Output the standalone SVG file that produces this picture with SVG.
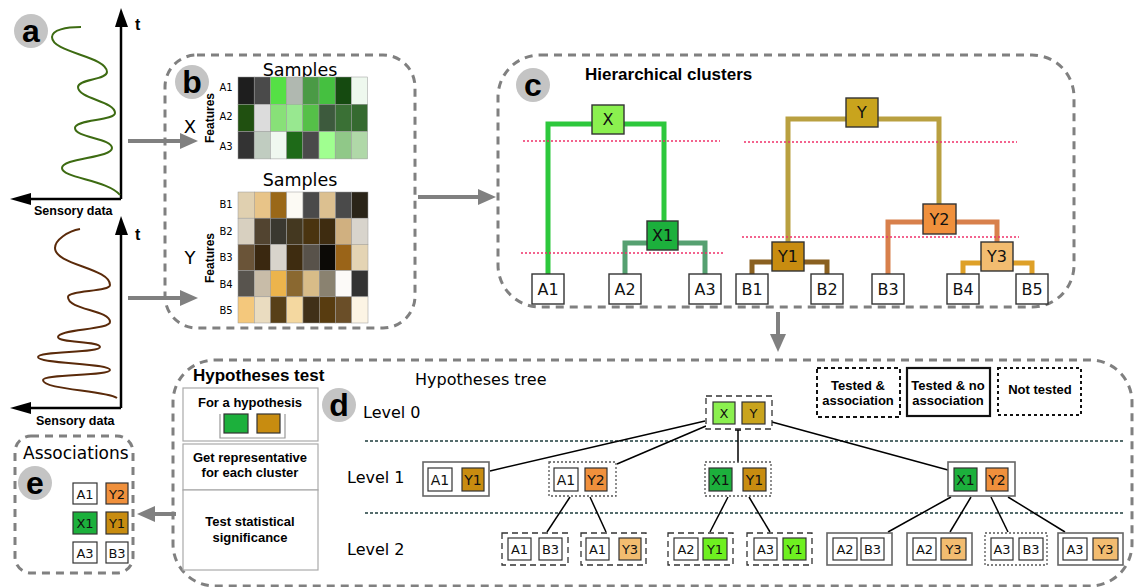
<svg xmlns="http://www.w3.org/2000/svg" width="1136" height="587" viewBox="0 0 1136 587">
<style>
.panel{fill:none;stroke:#808080;stroke-width:3;stroke-dasharray:8,6}
.badge{fill:#c4c4c4}
.badgeT{font-family:"Liberation Sans",Arial,sans-serif;font-weight:bold;font-size:32px;fill:#000;text-anchor:middle}
.bold{font-family:"Liberation Sans",Arial,sans-serif;font-weight:bold;fill:#000}
.reg{font-family:"DejaVu Sans","Liberation Sans",sans-serif;fill:#000}
.leaf{fill:#fff;stroke:#333;stroke-width:1.4}
.bt{font-family:"DejaVu Sans","Liberation Sans",sans-serif;fill:#111;text-anchor:middle}
.garrow{stroke:#808080;stroke-width:4;fill:none}
.cell{stroke:#999;stroke-width:0.5}
.red{stroke:#f0306a;stroke-width:1.4;stroke-dasharray:2,2;fill:none}
.sep{stroke:#1e3c3c;stroke-width:1.4;stroke-dasharray:3,2;fill:none}
.edge{stroke:#000;stroke-width:1.5;fill:none}
.nDash{fill:#fff;stroke:#333;stroke-width:1.3;stroke-dasharray:6,4}
.nSolid{fill:#fff;stroke:#666;stroke-width:1.6}
.nDot{fill:#fff;stroke:#555;stroke-width:1.3;stroke-dasharray:2,2}
.ib{stroke:#333;stroke-width:1.2}
</style>
<defs>
<marker id="blk" markerWidth="10" markerHeight="10" refX="9" refY="5" orient="auto" markerUnits="userSpaceOnUse" viewBox="0 0 10 10"><path d="M0,0 L10,5 L0,10 Z" fill="#000"/></marker>
</defs>

<!-- Panel a -->
<g id="panel-a">
  <circle class="badge" cx="31" cy="31" r="17"/>
  <text class="badgeT" x="31" y="42">a</text>
  <line x1="121" y1="199" x2="121" y2="27" stroke="#000" stroke-width="2.5"/>
  <path d="M115,27 L121,8 L128,27 Z" fill="#000"/>
  <line x1="121" y1="199" x2="30" y2="199" stroke="#000" stroke-width="2.5"/>
  <path d="M31,193 L10,199 L31,205 Z" fill="#000"/>
  <text class="bold" x="135" y="30" font-size="16">t</text>
  <text class="bold" x="34" y="215" font-size="12.5">Sensory data</text>
  <path d="M81,27 C66,27 52,30 52,37 C52,53 107,56 107,72 C107,80 78,79 78,87 C78,99 115,101 115,113 C115,121 75,119 75,128 C75,138 112,138 112,148 C112,158 62,158 62,168 C62,178 108,180 120,195" fill="none" stroke="#3d6b12" stroke-width="2"/>

  <line x1="121" y1="408" x2="121" y2="235" stroke="#000" stroke-width="2.5"/>
  <path d="M115,235 L121,216 L128,235 Z" fill="#000"/>
  <line x1="121" y1="408" x2="30" y2="408" stroke="#000" stroke-width="2.5"/>
  <path d="M31,402 L10,408 L31,414 Z" fill="#000"/>
  <text class="bold" x="135" y="240" font-size="16">t</text>
  <text class="bold" x="36" y="425" font-size="12.5">Sensory data</text>
  <path d="M80,229 C68,231 55,240 55,248 C55,265 110,268 110,285 C110,292 68,290 68,297 C68,310 110,310 110,322 C110,330 58,329 58,337 C58,343 100,341 100,347 C100,353 38,351 38,357 C38,364 110,363 110,370 C110,376 43,374 43,380 C43,390 105,390 117,398" fill="none" stroke="#5a2a0a" stroke-width="2"/>
</g>

<!-- Panel b -->
<g id="panel-b">
  <rect class="panel" x="165" y="55" width="250" height="273" rx="32"/>
  <circle class="badge" cx="192" cy="82" r="17"/>
  <text class="badgeT" x="192" y="93">b</text>
  <text class="reg" x="300" y="76" font-size="17.5" text-anchor="middle">Samples</text>
  <text class="reg" x="190" y="133" font-size="18" text-anchor="middle">X</text>
  <text class="bold" font-size="12" text-anchor="middle" transform="translate(214,118) rotate(-90)">Features</text>
  <g class="reg" font-size="10" text-anchor="middle">
    <text x="226" y="91">A1</text><text x="226" y="120">A2</text><text x="226" y="150">A3</text>
  </g>
  <g id="heat-x" class="cell">
    <rect x="238" y="77" width="16.2" height="27.3" fill="#1e1e1e"/><rect x="254.2" y="77" width="16.2" height="27.3" fill="#4a4a4a"/><rect x="270.4" y="77" width="16.2" height="27.3" fill="#55e045"/><rect x="286.6" y="77" width="16.2" height="27.3" fill="#b0b8b0"/><rect x="302.8" y="77" width="16.2" height="27.3" fill="#4a9a45"/><rect x="319" y="77" width="16.2" height="27.3" fill="#45c040"/><rect x="335.2" y="77" width="16.2" height="27.3" fill="#154a10"/><rect x="351.4" y="77" width="16.2" height="27.3" fill="#eef8ee"/>
    <rect x="238" y="104.3" width="16.2" height="27.3" fill="#205010"/><rect x="254.2" y="104.3" width="16.2" height="27.3" fill="#dcdcdc"/><rect x="270.4" y="104.3" width="16.2" height="27.3" fill="#88e078"/><rect x="286.6" y="104.3" width="16.2" height="27.3" fill="#98e890"/><rect x="302.8" y="104.3" width="16.2" height="27.3" fill="#55c048"/><rect x="319" y="104.3" width="16.2" height="27.3" fill="#3d5a3d"/><rect x="335.2" y="104.3" width="16.2" height="27.3" fill="#3a7035"/><rect x="351.4" y="104.3" width="16.2" height="27.3" fill="#356a30"/>
    <rect x="238" y="131.6" width="16.2" height="27.3" fill="#333333"/><rect x="254.2" y="131.6" width="16.2" height="27.3" fill="#c0ccc0"/><rect x="270.4" y="131.6" width="16.2" height="27.3" fill="#f0f8f0"/><rect x="286.6" y="131.6" width="16.2" height="27.3" fill="#1e6a18"/><rect x="302.8" y="131.6" width="16.2" height="27.3" fill="#4a4a4a"/><rect x="319" y="131.6" width="16.2" height="27.3" fill="#a0ff90"/><rect x="335.2" y="131.6" width="16.2" height="27.3" fill="#90c888"/><rect x="351.4" y="131.6" width="16.2" height="27.3" fill="#b0d8a8"/>
  </g>
  <text class="reg" x="300" y="186" font-size="17.5" text-anchor="middle">Samples</text>
  <text class="reg" x="190" y="264" font-size="18" text-anchor="middle">Y</text>
  <text class="bold" font-size="12" text-anchor="middle" transform="translate(214,258) rotate(-90)">Features</text>
  <g class="reg" font-size="10" text-anchor="middle">
    <text x="226" y="208">B1</text><text x="226" y="235">B2</text><text x="226" y="261">B3</text><text x="226" y="288">B4</text><text x="226" y="314">B5</text>
  </g>
  <g id="heat-y" class="cell">
    <rect x="238" y="192" width="16.25" height="26.2" fill="#e0d0b0"/><rect x="254.25" y="192" width="16.25" height="26.2" fill="#e8c488"/><rect x="270.5" y="192" width="16.25" height="26.2" fill="#9a6818"/><rect x="286.75" y="192" width="16.25" height="26.2" fill="#fcfaf4"/><rect x="303" y="192" width="16.25" height="26.2" fill="#4a4a4a"/><rect x="319.25" y="192" width="16.25" height="26.2" fill="#dcc090"/><rect x="335.5" y="192" width="16.25" height="26.2" fill="#4a4a4a"/><rect x="351.75" y="192" width="16.25" height="26.2" fill="#2a2418"/>
    <rect x="238" y="218.2" width="16.25" height="26.2" fill="#d8d0c0"/><rect x="254.25" y="218.2" width="16.25" height="26.2" fill="#524430"/><rect x="270.5" y="218.2" width="16.25" height="26.2" fill="#3a3830"/><rect x="286.75" y="218.2" width="16.25" height="26.2" fill="#443820"/><rect x="303" y="218.2" width="16.25" height="26.2" fill="#4a3410"/><rect x="319.25" y="218.2" width="16.25" height="26.2" fill="#3e2c10"/><rect x="335.5" y="218.2" width="16.25" height="26.2" fill="#d0b080"/><rect x="351.75" y="218.2" width="16.25" height="26.2" fill="#d8d4cc"/>
    <rect x="238" y="244.4" width="16.25" height="26.2" fill="#6a5438"/><rect x="254.25" y="244.4" width="16.25" height="26.2" fill="#3a2810"/><rect x="270.5" y="244.4" width="16.25" height="26.2" fill="#d8d4cc"/><rect x="286.75" y="244.4" width="16.25" height="26.2" fill="#3e2c10"/><rect x="303" y="244.4" width="16.25" height="26.2" fill="#58524a"/><rect x="319.25" y="244.4" width="16.25" height="26.2" fill="#0c0a06"/><rect x="335.5" y="244.4" width="16.25" height="26.2" fill="#9a6418"/><rect x="351.75" y="244.4" width="16.25" height="26.2" fill="#e4d4b4"/>
    <rect x="238" y="270.6" width="16.25" height="26.2" fill="#58544e"/><rect x="254.25" y="270.6" width="16.25" height="26.2" fill="#c8bca8"/><rect x="270.5" y="270.6" width="16.25" height="26.2" fill="#ecb44c"/><rect x="286.75" y="270.6" width="16.25" height="26.2" fill="#8a6830"/><rect x="303" y="270.6" width="16.25" height="26.2" fill="#d8bc88"/><rect x="319.25" y="270.6" width="16.25" height="26.2" fill="#8a8270"/><rect x="335.5" y="270.6" width="16.25" height="26.2" fill="#fcfaf8"/><rect x="351.75" y="270.6" width="16.25" height="26.2" fill="#333333"/>
    <rect x="238" y="296.8" width="16.25" height="26.2" fill="#f4c87c"/><rect x="254.25" y="296.8" width="16.25" height="26.2" fill="#eadcc0"/><rect x="270.5" y="296.8" width="16.25" height="26.2" fill="#584018"/><rect x="286.75" y="296.8" width="16.25" height="26.2" fill="#f4d8a0"/><rect x="303" y="296.8" width="16.25" height="26.2" fill="#403018"/><rect x="319.25" y="296.8" width="16.25" height="26.2" fill="#583c10"/><rect x="335.5" y="296.8" width="16.25" height="26.2" fill="#6a4e28"/><rect x="351.75" y="296.8" width="16.25" height="26.2" fill="#fcf4e4"/>
  </g>
</g>

<!-- Panel c -->
<g id="panel-c">
  <rect class="panel" x="498" y="55" width="576" height="252" rx="42"/>
  <circle class="badge" cx="533" cy="85" r="17"/>
  <text class="badgeT" x="533" y="96">c</text>
  <text class="bold" x="585" y="80" font-size="17">Hierarchical clusters</text>
  <g id="dendro-lines" fill="none" stroke-width="5">
    <path d="M548,274 V124 H664 V221" stroke="#2dc83c"/>
    <path d="M625,274 V243 H705 V274" stroke="#55a070"/>
    <path d="M788,242 V119 H939 V204" stroke="#b9a040"/>
    <path d="M888,274 V222 H997 V242" stroke="#d8804c"/>
    <path d="M963,274 V263 H1032 V274" stroke="#dea028"/>
    <path d="M752,274 V262 H827 V274" stroke="#8a6020"/>
  </g>
  <line class="red" x1="523" y1="141" x2="720" y2="141"/>
  <line class="red" x1="521" y1="253" x2="723" y2="253"/>
  <line class="red" x1="744" y1="142" x2="1017" y2="142"/>
  <line class="red" x1="742" y1="237" x2="1019" y2="237"/>
  <g id="c-X"><rect class="leaf" x="592" y="105" width="32" height="29" style="fill:#8bf04f"/><text class="bt" x="608" y="125" font-size="16">X</text></g>
  <g id="c-X1"><rect class="leaf" x="647" y="221" width="31" height="29" style="fill:#1cb03c"/><text class="bt" x="662.5" y="241" font-size="16">X1</text></g>
  <g id="c-A1"><rect class="leaf" x="532" y="274" width="32" height="30"/><text class="bt" x="548" y="295" font-size="16">A1</text></g>
  <g id="c-A2"><rect class="leaf" x="609" y="274" width="32" height="30"/><text class="bt" x="625" y="295" font-size="16">A2</text></g>
  <g id="c-A3"><rect class="leaf" x="689" y="274" width="32" height="30"/><text class="bt" x="705" y="295" font-size="16">A3</text></g>
  <g id="c-Y"><rect class="leaf" x="846" y="98" width="32" height="29" style="fill:#c9a41d"/><text class="bt" x="862" y="118" font-size="16">Y</text></g>
  <g id="c-Y2"><rect class="leaf" x="923" y="204" width="33" height="30" style="fill:#f0903c"/><text class="bt" x="939.5" y="225" font-size="16">Y2</text></g>
  <g id="c-Y3"><rect class="leaf" x="981" y="242" width="32" height="29" style="fill:#f2bc70"/><text class="bt" x="997" y="262" font-size="16">Y3</text></g>
  <g id="c-Y1"><rect class="leaf" x="772" y="242" width="32" height="29" style="fill:#c88c10"/><text class="bt" x="788" y="262" font-size="16">Y1</text></g>
  <g id="c-B1"><rect class="leaf" x="736" y="274" width="32" height="30"/><text class="bt" x="752" y="295" font-size="16">B1</text></g>
  <g id="c-B2"><rect class="leaf" x="811" y="274" width="32" height="30"/><text class="bt" x="827" y="295" font-size="16">B2</text></g>
  <g id="c-B3"><rect class="leaf" x="872" y="274" width="32" height="30"/><text class="bt" x="888" y="295" font-size="16">B3</text></g>
  <g id="c-B4"><rect class="leaf" x="947" y="274" width="32" height="30"/><text class="bt" x="963" y="295" font-size="16">B4</text></g>
  <g id="c-B5"><rect class="leaf" x="1016" y="274" width="32" height="30"/><text class="bt" x="1032" y="295" font-size="16">B5</text></g>
</g>

<!-- Panel d -->
<g id="panel-d">
  <rect class="panel" x="173" y="360" width="959" height="226" rx="42"/>
  <text class="bold" x="193" y="381" font-size="17">Hypotheses test</text>
  <g id="d-test">
    <rect x="183" y="388" width="135" height="53" fill="#fff" stroke="#aaa" stroke-width="1.2"/>
    <text class="bold" x="250" y="407" font-size="13" text-anchor="middle">For a hypothesis</text>
    <path d="M220,414 V438 H285 V414" fill="none" stroke="#999" stroke-width="1.2"/>
    <rect class="ib" x="224" y="414" width="24" height="19" fill="#1cb03c"/>
    <rect class="ib" x="257" y="414" width="23" height="19" fill="#c88c10"/>
    <rect x="183" y="444" width="135" height="46" fill="#fff" stroke="#aaa" stroke-width="1.2"/>
    <rect x="183" y="490" width="135" height="80" fill="#fff" stroke="#aaa" stroke-width="1.2"/>
    <text class="bold" x="250" y="462" font-size="13" text-anchor="middle">Get representative</text>
    <text class="bold" x="250" y="477" font-size="13" text-anchor="middle">for each cluster</text>
    <text class="bold" x="250" y="526" font-size="13" text-anchor="middle">Test statistical</text>
    <text class="bold" x="250" y="542" font-size="13" text-anchor="middle">significance</text>
  </g>
  <circle class="badge" cx="339" cy="405" r="17"/>
  <text class="badgeT" x="339" y="416">d</text>
  <text class="reg" x="415" y="385" font-size="16">Hypotheses tree</text>
  <text class="reg" x="363" y="418" font-size="16">Level 0</text>
  <text class="reg" x="347" y="483" font-size="16">Level 1</text>
  <text class="reg" x="347" y="555" font-size="16">Level 2</text>
  <line class="sep" x1="365" y1="441" x2="1125" y2="441"/>
  <line class="sep" x1="365" y1="513" x2="1125" y2="513"/>

  <g id="legend">
    <rect x="817" y="368" width="83" height="49" fill="#fff" stroke="#111" stroke-width="2" stroke-dasharray="4,3"/>
    <text class="bold" x="858" y="390" font-size="13" text-anchor="middle">Tested &amp;</text>
    <text class="bold" x="858" y="405" font-size="13" text-anchor="middle">association</text>
    <rect x="907" y="368" width="83" height="48" fill="#fff" stroke="#111" stroke-width="2.2"/>
    <text class="bold" x="948" y="390" font-size="13" text-anchor="middle">Tested &amp; no</text>
    <text class="bold" x="948" y="405" font-size="13" text-anchor="middle">association</text>
    <rect x="998" y="368" width="83" height="47" fill="#fff" stroke="#111" stroke-width="2" stroke-dasharray="3,3"/>
    <text class="bold" x="1040" y="394" font-size="13" text-anchor="middle">Not tested</text>
  </g>
</g>

<!-- connectors -->
<g id="connectors">
  <line class="garrow" x1="128" y1="141" x2="182" y2="141"/>
  <path d="M180,133 L198,141 L180,149 Z" fill="#808080"/>
  <line class="garrow" x1="128" y1="298" x2="182" y2="298"/>
  <path d="M180,290 L198,298 L180,306 Z" fill="#808080"/>
  <line class="garrow" x1="418" y1="197" x2="480" y2="197"/>
  <path d="M478,189 L496,197 L478,205 Z" fill="#808080"/>
  <line class="garrow" x1="778" y1="312" x2="778" y2="336"/>
  <path d="M770,334 L778,352 L786,334 Z" fill="#808080"/>
  <line class="garrow" x1="176" y1="514" x2="152" y2="514"/>
  <path d="M155,506 L137,514 L155,522 Z" fill="#808080"/>

  <line class="edge" x1="705" y1="421" x2="490" y2="471"/>
  <line class="edge" x1="706" y1="426" x2="617" y2="464"/>
  <line class="edge" x1="738" y1="430" x2="738" y2="462"/>
  <line class="edge" x1="735" y1="430" x2="741" y2="430"/>
  <line class="edge" x1="772" y1="422" x2="948" y2="470"/>
  <line class="edge" x1="570" y1="497" x2="547" y2="532"/>
  <line class="edge" x1="590" y1="497" x2="606" y2="532"/>
  <line class="edge" x1="728" y1="497" x2="710" y2="532"/>
  <line class="edge" x1="749" y1="497" x2="770" y2="532"/>
  <line class="edge" x1="951" y1="497" x2="888" y2="532"/>
  <line class="edge" x1="971" y1="497" x2="950" y2="532"/>
  <line class="edge" x1="991" y1="497" x2="1008" y2="532"/>
  <line class="edge" x1="1008" y1="497" x2="1065" y2="532"/>
</g>

<!-- tree nodes -->
<g id="h-L0"><rect class="nDash" x="706" y="396" width="66" height="33"/>
  <rect class="ib" x="713" y="402" width="22" height="22" fill="#8bf04f"/><text class="bt" x="724" y="418" font-size="13">X</text>
  <rect class="ib" x="742" y="402" width="23" height="22" fill="#c9a41d"/><text class="bt" x="753.5" y="418" font-size="13">Y</text></g>
<g id="h-L1a"><rect class="nSolid" x="423" y="462" width="66" height="34"/>
  <rect class="ib" x="428" y="468" width="24" height="23" fill="#fff"/><text class="bt" x="440" y="484.5" font-size="14">A1</text>
  <rect class="ib" x="462" y="468" width="22" height="23" fill="#c88c10"/><text class="bt" x="473" y="484.5" font-size="14">Y1</text></g>
<g id="h-L1b"><rect class="nDot" x="549" y="462" width="67" height="34"/>
  <rect class="ib" x="554" y="468" width="24" height="23" fill="#fff"/><text class="bt" x="566" y="484.5" font-size="14">A1</text>
  <rect class="ib" x="585" y="468" width="22" height="23" fill="#f0903c"/><text class="bt" x="596" y="484.5" font-size="14">Y2</text></g>
<g id="h-L1c"><rect class="nDot" x="705" y="462" width="66" height="34"/>
  <rect class="ib" x="709" y="468" width="23" height="23" fill="#1cb03c"/><text class="bt" x="720.5" y="484.5" font-size="14">X1</text>
  <rect class="ib" x="743" y="468" width="23" height="23" fill="#c88c10"/><text class="bt" x="754.5" y="484.5" font-size="14">Y1</text></g>
<g id="h-L1d"><rect class="nSolid" x="948" y="462" width="67" height="34"/>
  <rect class="ib" x="954" y="468" width="23" height="23" fill="#1cb03c"/><text class="bt" x="965.5" y="484.5" font-size="14">X1</text>
  <rect class="ib" x="986" y="468" width="22" height="23" fill="#f0903c"/><text class="bt" x="997" y="484.5" font-size="14">Y2</text></g>

<g id="h-L2a"><rect class="nDash" x="502" y="533" width="66" height="32"/>
  <rect class="ib" x="508" y="538" width="23" height="22" fill="#fff"/><text class="bt" x="519.5" y="554" font-size="13">A1</text>
  <rect class="ib" x="539" y="538" width="23" height="22" fill="#fff"/><text class="bt" x="550.5" y="554" font-size="13">B3</text></g>
<g id="h-L2b"><rect class="nDash" x="581" y="533" width="65" height="32"/>
  <rect class="ib" x="586" y="538" width="23" height="22" fill="#fff"/><text class="bt" x="597.5" y="554" font-size="13">A1</text>
  <rect class="ib" x="619" y="538" width="22" height="22" fill="#f2bc70"/><text class="bt" x="630" y="554" font-size="13">Y3</text></g>
<g id="h-L2c"><rect class="nDash" x="668" y="533" width="65" height="32"/>
  <rect class="ib" x="674" y="538" width="24" height="22" fill="#fff"/><text class="bt" x="686" y="554" font-size="13">A2</text>
  <rect class="ib" x="703" y="538" width="24" height="22" fill="#6ef020"/><text class="bt" x="715" y="554" font-size="13">Y1</text></g>
<g id="h-L2d"><rect class="nDash" x="747" y="533" width="65" height="32"/>
  <rect class="ib" x="754" y="538" width="23" height="22" fill="#fff"/><text class="bt" x="765.5" y="554" font-size="13">A3</text>
  <rect class="ib" x="783" y="538" width="23" height="22" fill="#6ef020"/><text class="bt" x="794.5" y="554" font-size="13">Y1</text></g>
<g id="h-L2e"><rect class="nSolid" x="827" y="533" width="65" height="32"/>
  <rect class="ib" x="833" y="538" width="24" height="22" fill="#fff"/><text class="bt" x="845" y="554" font-size="13">A2</text>
  <rect class="ib" x="861" y="538" width="23" height="22" fill="#fff"/><text class="bt" x="872.5" y="554" font-size="13">B3</text></g>
<g id="h-L2f"><rect class="nSolid" x="907" y="533" width="65" height="32"/>
  <rect class="ib" x="913" y="538" width="23" height="22" fill="#fff"/><text class="bt" x="924.5" y="554" font-size="13">A2</text>
  <rect class="ib" x="941" y="538" width="25" height="22" fill="#f2bc70"/><text class="bt" x="953.5" y="554" font-size="13">Y3</text></g>
<g id="h-L2g"><rect class="nDot" x="985" y="533" width="62" height="32"/>
  <rect class="ib" x="991" y="538" width="22" height="22" fill="#fff"/><text class="bt" x="1002" y="554" font-size="13">A3</text>
  <rect class="ib" x="1019" y="538" width="24" height="22" fill="#fff"/><text class="bt" x="1031" y="554" font-size="13">B3</text></g>
<g id="h-L2h"><rect class="nSolid" x="1058" y="533" width="65" height="32"/>
  <rect class="ib" x="1063" y="538" width="24" height="22" fill="#fff"/><text class="bt" x="1075" y="554" font-size="13">A3</text>
  <rect class="ib" x="1093" y="538" width="25" height="22" fill="#f2bc70"/><text class="bt" x="1105.5" y="554" font-size="13">Y3</text></g>

<!-- Panel e -->
<g id="panel-e">
  <rect class="panel" x="15" y="436" width="118" height="137" rx="16"/>
  <text class="reg" x="23" y="459" font-size="17">Associations</text>
  <circle class="badge" cx="35" cy="483" r="17"/>
  <text class="badgeT" x="35" y="494">e</text>
  <rect class="ib" x="73" y="483" width="24" height="21" fill="#fff"/><text class="bt" x="85" y="499" font-size="13">A1</text>
  <rect class="ib" x="106" y="483" width="22" height="21" fill="#f0903c"/><text class="bt" x="117" y="499" font-size="13">Y2</text>
  <rect class="ib" x="73" y="512" width="24" height="22" fill="#1cb03c"/><text class="bt" x="85" y="528" font-size="13">X1</text>
  <rect class="ib" x="106" y="512" width="22" height="22" fill="#c88c10"/><text class="bt" x="117" y="528" font-size="13">Y1</text>
  <rect class="ib" x="73" y="542" width="24" height="21" fill="#fff"/><text class="bt" x="85" y="558" font-size="13">A3</text>
  <rect class="ib" x="106" y="542" width="22" height="21" fill="#fff"/><text class="bt" x="117" y="558" font-size="13">B3</text>
</g>
</svg>
